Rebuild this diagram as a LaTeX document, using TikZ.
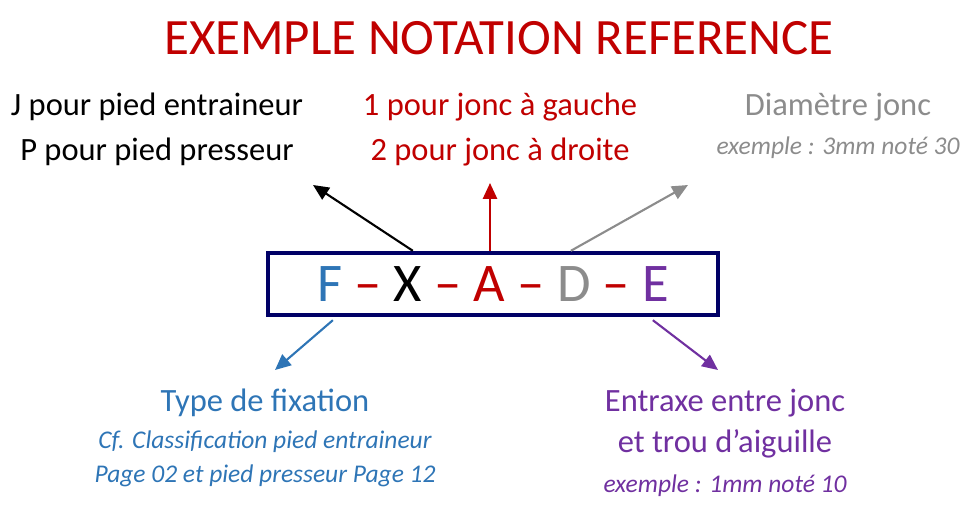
\documentclass[tikz,border=0pt]{standalone}
\usepackage{fontspec}
\setmainfont{Carlito}
\usetikzlibrary{arrows.meta, positioning}
\definecolor{darkred}{HTML}{C00000}
\definecolor{fixblue}{HTML}{2E75B6}
\definecolor{violet}{HTML}{7030A0}
\definecolor{greytext}{HTML}{8C8C8C}
\tikzstyle{label} = [text centered, font=\fontsize{18.5}{20}\selectfont, inner sep=1pt]
\tikzstyle{note} = [text centered, font=\fontsize{14.5}{16}\selectfont\itshape, inner sep=1pt]
\tikzstyle{pointer} = [line width=1.2pt, -{Triangle[length=9pt, width=8pt]}]

\begin{document}
\begin{tikzpicture}[x=0.02cm, y=-0.02cm]

    \useasboundingbox (0,0) rectangle (980,507);

    \node (title) [text=darkred, font=\fontsize{29}{31}\selectfont] at (499,38) {EXEMPLE NOTATION REFERENCE};

    \node (code) [draw=blue!40!black, line width=2.5pt, minimum width=9cm, minimum height=1.24cm,
                  font=\fontsize{31}{33}\selectfont] at (493,284) {%
        \textcolor{fixblue}{F} \textcolor{darkred}{–} X \textcolor{darkred}{– A –}
        \textcolor{greytext}{D} \textcolor{darkred}{–} \textcolor{violet}{E}};

    % top labels
    \node (foot1) [label] at (157,107) {J pour pied entraineur};
    \node (foot2) [label] at (157,152) {P pour pied presseur};
    \node (side1) [label, text=darkred] at (500,107) {1 pour jonc à gauche};
    \node (side2) [label, text=darkred] at (500,152) {2 pour jonc à droite};
    \node (diam) [label, text=greytext] at (838,107) {Diamètre jonc};
    \node (diamex) [note, text=greytext] at (838,148) {exemple : 3mm noté 30};

    % bottom labels
    \node (fix1) [label, text=fixblue] at (265,403) {Type de fixation};
    \node (fix2) [note, text=fixblue] at (265,442) {Cf. Classification pied entraineur};
    \node (fix3) [note, text=fixblue] at (265,476) {Page 02 et pied presseur Page 12};
    \node (entr1) [label, text=violet] at (725,403) {Entraxe entre jonc};
    \node (entr2) [label, text=violet] at (725,444) {et trou d’aiguille};
    \node (entr3) [note, text=violet] at (725,486) {exemple : 1mm noté 10};

    % arrow ends
    \coordinate (tipfoot) at (313,185);
    \coordinate (tipside) at (490,183);
    \coordinate (tipdiam) at (688,185);
    \coordinate (tipfix) at (275,370);
    \coordinate (tipentr) at (718,370);

    \draw [pointer, black] (code.north west) ++(147,0) -- (tipfoot);
    \draw [pointer, darkred] (code.north -| tipside) -- (tipside);
    \draw [pointer, greytext] (code.north west) ++(305,0) -- (tipdiam);
    \draw [pointer, fixblue] (code.south west) ++(67,3) -- (tipfix);
    \draw [pointer, violet] (code.south west) ++(387,3) -- (tipentr);

\end{tikzpicture}
\end{document}
